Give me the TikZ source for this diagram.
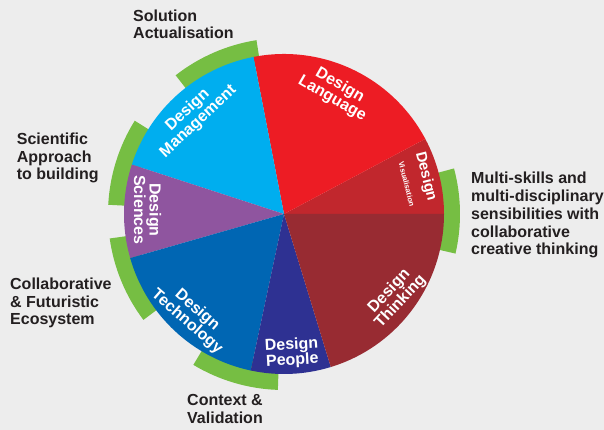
\documentclass[tikz,border=0pt]{standalone}
\usepackage{fontspec}
\setmainfont{Liberation Sans}
\usepackage{xcolor}

\definecolor{paper}{HTML}{EDEDED}
\definecolor{inktext}{HTML}{231F20}
\definecolor{ringgreen}{HTML}{76BE43}
\definecolor{visred}{HTML}{C1272D}
\definecolor{langred}{HTML}{ED1C24}
\definecolor{mgmtblue}{HTML}{00AEEF}
\definecolor{scipurple}{HTML}{8F559F}
\definecolor{techblue}{HTML}{0066B3}
\definecolor{peopleblue}{HTML}{2E3192}
\definecolor{thinkred}{HTML}{982B32}

\begin{document}
\begin{tikzpicture}[x=1pt, y=1pt,
	ring/.style={fill=ringgreen},
	seclabel/.style={text=white, align=center, inner sep=0pt,
		font=\bfseries\fontsize{16}{15.5}\selectfont},
	outlabel/.style={text=inktext, align=left, inner sep=0pt, anchor=base west,
		font=\bfseries\fontsize{16}{17.8}\selectfont}]
	\useasboundingbox (-284,-216) rectangle (320,214);
	\fill[paper] (-284,-216) rectangle (320,214);
	% green rings behind the wheel
	\fill[ring] (-13:150pt) arc[start angle=-13, end angle=15, radius=150pt] -- (15:176pt) arc[start angle=15, end angle=-13, radius=176pt] -- cycle;
	\fill[ring] (99:150pt) arc[start angle=99, end angle=128, radius=150pt] -- (128:176pt) arc[start angle=128, end angle=99, radius=176pt] -- cycle;
	\fill[ring] (148:150pt) arc[start angle=148, end angle=177, radius=150pt] -- (177:176pt) arc[start angle=177, end angle=148, radius=176pt] -- cycle;
	\fill[ring] (188:150pt) arc[start angle=188, end angle=217, radius=150pt] -- (217:176pt) arc[start angle=217, end angle=188, radius=176pt] -- cycle;
	\fill[ring] (239:150pt) arc[start angle=239, end angle=268, radius=150pt] -- (268:176pt) arc[start angle=268, end angle=239, radius=176pt] -- cycle;
	% wheel
	\fill[visred] (0,0) -- (0:160pt) arc[start angle=0, end angle=28, radius=160pt] -- cycle;
	\fill[langred] (0,0) -- (28:160pt) arc[start angle=28, end angle=101, radius=160pt] -- cycle;
	\fill[mgmtblue] (0,0) -- (101:160pt) arc[start angle=101, end angle=162, radius=160pt] -- cycle;
	\fill[scipurple] (0,0) -- (162:160pt) arc[start angle=162, end angle=196, radius=160pt] -- cycle;
	\fill[techblue] (0,0) -- (196:160pt) arc[start angle=196, end angle=258, radius=160pt] -- cycle;
	\fill[peopleblue] (0,0) -- (258:160pt) arc[start angle=258, end angle=287, radius=160pt] -- cycle;
	\fill[thinkred] (0,0) -- (287:160pt) arc[start angle=287, end angle=360, radius=160pt] -- cycle;
	% labels in the wheel
	\node[seclabel, rotate=-30] (lang) at (52,122) {Design\\Language};
	\node[seclabel, rotate=-76, font=\bfseries\fontsize{15}{15}\selectfont] (visdesign) at (141.7,37.3) {Design};
	\node[seclabel, rotate=-76, font=\bfseries\fontsize{7.5}{9}\selectfont] (vissub) at (122.7,30) {Visualisation};
	\node[seclabel, rotate=43] (mgmt) at (-91,98) {Design\\Management};
	\node[seclabel, rotate=-90] (sci) at (-136.5,4) {Design\\Sciences};
	\node[seclabel, rotate=-41] (tech) at (-92,-102) {Design\\Technology};
	\node[seclabel, rotate=3] (people) at (8,-139) {Design\\People};
	\node[seclabel, rotate=47] (think) at (111,-82.5) {Design\\Thinking};
	% labels round the wheel (base = last line)
	\node[outlabel] (solution) at (-151,175) {Solution\\Actualisation};
	\node[outlabel] (multi) at (187,-41) {Multi-skills and\\multi-disciplinary\\sensibilities with\\collaborative\\creative thinking};
	\node[outlabel] (scientific) at (-267.3,34) {Scientific\\Approach\\to building};
	\node[outlabel] (ecosystem) at (-274,-111) {Collaborative\\\& Futuristic\\Ecosystem};
	\node[outlabel] (context) at (-97,-209) {Context \&\\Validation};
\end{tikzpicture}
\end{document}
